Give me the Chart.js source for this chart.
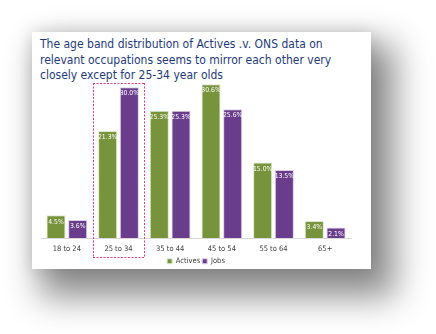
<!DOCTYPE html>
<html>
<head>
<meta charset="utf-8">
<script src="https://cdn.jsdelivr.net/npm/chart.js@4"></script>
<style>
  html, body { margin: 0; padding: 0; background: #ffffff; }
  body { width: 436px; height: 334px; position: relative; overflow: hidden; }
  #slide {
    position: absolute; left: 32px; top: 32px; width: 339px; height: 237px;
    background: #ffffff;
    box-shadow: 16px 20px 32px 8px rgba(0, 0, 0, 0.45), 0 0 16px rgba(0, 0, 0, 0.14);
  }
  #title {
    position: absolute; left: 8px; top: 5px; width: 330px;
    font-family: "DejaVu Sans Condensed", "DejaVu Sans", sans-serif;
    font-size: 12px; line-height: 15.5px; color: #1f3b7c;
  }
  #chartBox { position: absolute; left: 0; top: 0; width: 339px; height: 243px; }
</style>
</head>
<body>
<div id="slide">
  <div id="title">The age band distribution of Actives .v. ONS data on relevant occupations seems to mirror each other very closely except for 25-34 year olds</div>
  <div id="chartBox"><canvas id="ageChart"></canvas></div>
</div>
<script>
const ageBands = ["18 to 24", "25 to 34", "35 to 44", "45 to 54", "55 to 64", "65+"];
const activesPct = [4.5, 21.3, 25.3, 30.6, 15.0, 3.4];
const jobsPct = [3.6, 30.0, 25.3, 25.6, 13.5, 2.1];
const highlightBand = "25 to 34";

const GREEN = "#77933c";
const PURPLE = "#6a3d8c";
const HIGHLIGHT = "#e8378a";

// white percentage labels just inside the top of each bar
const barLabels = {
  id: "barLabels",
  afterDatasetsDraw(chart) {
    const ctx = chart.ctx;
    ctx.save();
    ctx.fillStyle = "#ffffff";
    ctx.font = "6.8px 'DejaVu Sans Condensed', 'DejaVu Sans', sans-serif";
    ctx.textAlign = "center";
    ctx.textBaseline = "top";
    chart.data.datasets.forEach((ds, i) => {
      chart.getDatasetMeta(i).data.forEach((bar, j) => {
        ctx.fillText(ds.data[j].toFixed(1) + "%", bar.x, bar.y + 3);
      });
    });
    ctx.restore();
  },
};

// dotted box round the highlighted age band, drawn as little dashes
function dashedLine(ctx, x0, y0, x1, y1) {
  const len = Math.hypot(x1 - x0, y1 - y0);
  for (let d = 0; d < len; d += 3.5) {
    const t = d / len;
    const w = x0 === x1 ? 1 : Math.min(2, len - d);
    const h = x0 === x1 ? Math.min(2, len - d) : 1;
    ctx.fillRect(x0 + (x1 - x0) * t, y0 + (y1 - y0) * t, w, h);
  }
}

const bandBox = {
  id: "bandBox",
  afterDraw(chart) {
    const x = chart.scales.x;
    const y = chart.scales.y;
    const idx = ageBands.indexOf(highlightBand);
    const half = (x.getPixelForValue(1) - x.getPixelForValue(0)) / 2;
    const cx = x.getPixelForValue(idx);
    const left = Math.round(cx - half);
    const right = Math.round(cx + half);
    const top = Math.round(y.getPixelForValue(30.9));
    const bottom = Math.round(chart.chartArea.bottom + 19);
    const ctx = chart.ctx;
    ctx.save();
    ctx.fillStyle = HIGHLIGHT;
    dashedLine(ctx, left, top, right, top);
    dashedLine(ctx, left, bottom, right + 1, bottom);
    dashedLine(ctx, left, top, left, bottom);
    dashedLine(ctx, right, top, right, bottom);
    ctx.restore();
  },
};

new Chart(document.getElementById("ageChart"), {
  type: "bar",
  data: {
    labels: ageBands,
    datasets: [
      {
        label: "Actives",
        data: activesPct,
        backgroundColor: GREEN,
        borderColor: "#dfe8cf",
        borderWidth: 1,
        barPercentage: 0.88,
        categoryPercentage: 0.84,
      },
      {
        label: "Jobs",
        data: jobsPct,
        backgroundColor: PURPLE,
        borderColor: "#dcd0e6",
        borderWidth: 1,
        barPercentage: 0.88,
        categoryPercentage: 0.84,
      },
    ],
  },
  options: {
    responsive: true,
    maintainAspectRatio: false,
    animation: false,
    layout: { padding: { top: 30, left: 9, right: 20, bottom: 0 } },
    plugins: {
      legend: {
        position: "bottom",
        labels: {
          boxWidth: 5,
          boxHeight: 5,
          padding: 2,
          color: "#404040",
          font: { size: 7.5, family: "'DejaVu Sans Condensed', 'DejaVu Sans', sans-serif" },
        },
      },
      tooltip: { enabled: false },
    },
    scales: {
      x: {
        grid: { display: false, drawTicks: false },
        border: { color: "#d9d9d9" },
        ticks: {
          color: "#404040",
          padding: 7,
          font: { size: 7.5, family: "'DejaVu Sans Condensed', 'DejaVu Sans', sans-serif" },
        },
        // axis band is otherwise sized with the tick padding counted twice
        afterFit(scale) {
          scale.height = 17.5;
        },
      },
      y: {
        display: false,
        min: 0,
        max: 35,
      },
    },
  },
  plugins: [barLabels, bandBox],
});
</script>
</body>
</html>
